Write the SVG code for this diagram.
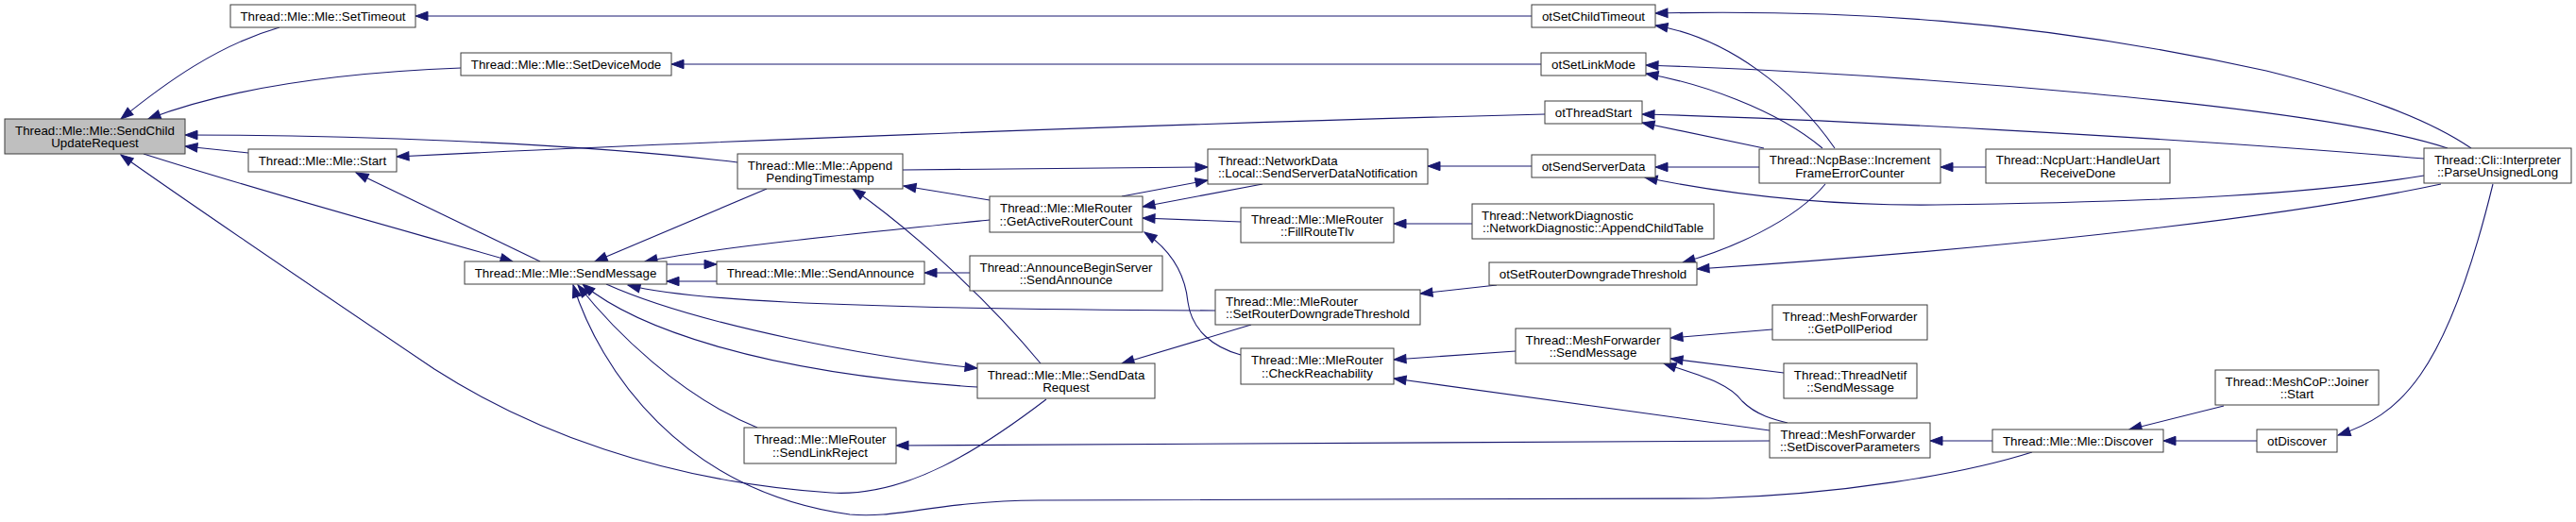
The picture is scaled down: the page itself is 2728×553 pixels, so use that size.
<svg xmlns="http://www.w3.org/2000/svg" width="2728" height="553" viewBox="0 0 2728 553">
<style>
.node rect{fill:#ffffff;stroke:#3c3c3c;stroke-width:1}
.node.root rect{fill:#bfbfbf}
text{font-family:"Liberation Sans",Arial,Helvetica,sans-serif;font-size:13.33px;fill:#000000}
.c{text-anchor:middle}
.l{text-anchor:start}
#edges path{fill:none;stroke:#191970;stroke-width:1.1;marker-start:url(#ah)}
</style>
<defs>
<marker id="ah" markerUnits="userSpaceOnUse" markerWidth="14" markerHeight="10" viewBox="0 0 14 10" refX="13" refY="4.7" orient="auto-start-reverse" style="overflow:visible">
<path d="M0,0 L13,4.7 L0,9.4 Z" fill="#191970" stroke="#191970" stroke-width="1"/>
</marker>
</defs>
<rect x="0" y="0" width="2728" height="553" fill="#ffffff"/>
<g id="edges">
<path d="M440,17 L1622,17"/>
<path d="M128,126 C175,88 230,48 296,29"/>
<path d="M157,126 C225,100 330,78 488,72"/>
<path d="M711,68 L1632,68"/>
<path d="M196,143 C350,143 600,150 781,172"/>
<path d="M196,155 L263,162"/>
<path d="M420,166 C700,152 1200,132 1636,121"/>
<path d="M377,183 L572,277"/>
<path d="M543,277 C450,250 300,210 152,163"/>
<path d="M128,164 C210,222 340,310 460,391 C560,455 700,510 880,522 C960,527 1040,475 1108,423"/>
<path d="M903,200 C960,240 1040,310 1102,385"/>
<path d="M630,277 L812,200"/>
<path d="M683,277 C760,262 900,248 1048,233"/>
<path d="M759,280 L706,280"/>
<path d="M706,298 L759,298"/>
<path d="M665,302 C720,316 850,327 1287,329"/>
<path d="M1035,390 C930,380 740,345 642,301"/>
<path d="M617,301 C670,345 800,395 1035,410"/>
<path d="M612,302 C650,350 720,420 802,453"/>
<path d="M607,302 C635,390 720,520 900,545 C950,550 990,531 1100,530 L1810,528 C1950,524 2080,502 2152,479"/>
<path d="M1210,219 L1337,195"/>
<path d="M1279,191 L1188,208"/>
<path d="M1279,177 L956,180"/>
<path d="M957,197 L1048,212"/>
<path d="M1210,231 L1314,235"/>
<path d="M1212,246 C1240,265 1255,290 1258,320 C1262,350 1285,368 1314,376"/>
<path d="M1512,176 L1622,176"/>
<path d="M1476,237 L1559,237"/>
<path d="M979,289 L1027,289"/>
<path d="M1188,385 L1325,344"/>
<path d="M1504,311 L1585,302"/>
<path d="M1476,381 L1605,372"/>
<path d="M1476,401 L1874,456"/>
<path d="M949,472 L1874,467"/>
<path d="M1769,358 L1877,349"/>
<path d="M1769,380 L1889,395"/>
<path d="M1762,385 C1800,398 1830,405 1845,425 C1860,440 1880,445 1893,448"/>
<path d="M2044,467 L2110,467"/>
<path d="M2255,455 L2355,430"/>
<path d="M2291,467 L2390,467"/>
<path d="M2476,461 C2540,440 2590,400 2640,195"/>
<path d="M2055,177 L2103,177"/>
<path d="M1753,14 C1950,10 2150,20 2400,75 C2500,100 2570,125 2617,157"/>
<path d="M1753,27 C1830,40 1900,95 1943,157"/>
<path d="M1743,69 C2000,78 2450,110 2592,157"/>
<path d="M1743,78 C1800,88 1880,115 1930,157"/>
<path d="M1739,121 C1900,125 2300,145 2567,168"/>
<path d="M1739,130 L1868,157"/>
<path d="M1753,177 L1863,177"/>
<path d="M1742,188 C1850,210 1950,218 2050,217 C2300,214 2450,205 2567,186"/>
<path d="M1782,278 C1830,265 1900,235 1933,195"/>
<path d="M1797,285 C1950,275 2350,245 2585,195"/>
</g>
<g id="n1" class="node root"><rect x="5" y="126" width="191" height="37"/><text class="c" x="100.5" y="142.8">Thread::Mle::Mle::SendChild</text><text class="c" x="100.5" y="156">UpdateRequest</text></g>
<g id="n2" class="node"><rect x="244" y="5" width="196" height="24"/><text class="c" x="342" y="22">Thread::Mle::Mle::SetTimeout</text></g>
<g id="n3" class="node"><rect x="488" y="56" width="223" height="24"/><text class="c" x="599.5" y="73">Thread::Mle::Mle::SetDeviceMode</text></g>
<g id="n4" class="node"><rect x="263" y="158" width="157" height="24"/><text class="c" x="341.5" y="175">Thread::Mle::Mle::Start</text></g>
<g id="n5" class="node"><rect x="781" y="163" width="175" height="37"/><text class="c" x="868.5" y="179.8">Thread::Mle::Mle::Append</text><text class="c" x="868.5" y="193">PendingTimestamp</text></g>
<g id="n6" class="node"><rect x="492" y="277" width="214" height="24"/><text class="c" x="599" y="294">Thread::Mle::Mle::SendMessage</text></g>
<g id="n7" class="node"><rect x="759" y="277" width="220" height="24"/><text class="c" x="869" y="294">Thread::Mle::Mle::SendAnnounce</text></g>
<g id="n8" class="node"><rect x="1048" y="208" width="162" height="38"/><text class="c" x="1129" y="225.3">Thread::Mle::MleRouter</text><text class="c" x="1129" y="238.5">::GetActiveRouterCount</text></g>
<g id="n9" class="node"><rect x="1027" y="271" width="204" height="37"/><text class="c" x="1129" y="287.8">Thread::AnnounceBeginServer</text><text class="c" x="1129" y="301">::SendAnnounce</text></g>
<g id="n10" class="node"><rect x="1279" y="158" width="233" height="37"/><text class="l" x="1290" y="174.8">Thread::NetworkData</text><text class="c" x="1395.5" y="188">::Local::SendServerDataNotification</text></g>
<g id="n11" class="node"><rect x="1314" y="220" width="162" height="37"/><text class="c" x="1395" y="236.8">Thread::Mle::MleRouter</text><text class="c" x="1395" y="250">::FillRouteTlv</text></g>
<g id="n12" class="node"><rect x="1287" y="307" width="217" height="37"/><text class="l" x="1298" y="323.8">Thread::Mle::MleRouter</text><text class="c" x="1395.5" y="337">::SetRouterDowngradeThreshold</text></g>
<g id="n13" class="node"><rect x="1035" y="385" width="188" height="37"/><text class="c" x="1129" y="401.8">Thread::Mle::Mle::SendData</text><text class="c" x="1129" y="415">Request</text></g>
<g id="n14" class="node"><rect x="1314" y="369" width="162" height="38"/><text class="c" x="1395" y="386.3">Thread::Mle::MleRouter</text><text class="c" x="1395" y="399.5">::CheckReachability</text></g>
<g id="n15" class="node"><rect x="788" y="453" width="161" height="38"/><text class="c" x="868.5" y="470.3">Thread::Mle::MleRouter</text><text class="c" x="868.5" y="483.5">::SendLinkReject</text></g>
<g id="n16" class="node"><rect x="1622" y="5" width="131" height="24"/><text class="c" x="1687.5" y="22">otSetChildTimeout</text></g>
<g id="n17" class="node"><rect x="1632" y="56" width="111" height="24"/><text class="c" x="1687.5" y="73">otSetLinkMode</text></g>
<g id="n18" class="node"><rect x="1636" y="107" width="103" height="24"/><text class="c" x="1687.5" y="124">otThreadStart</text></g>
<g id="n19" class="node"><rect x="1622" y="164" width="131" height="24"/><text class="c" x="1687.5" y="181">otSendServerData</text></g>
<g id="n20" class="node"><rect x="1559" y="216" width="256" height="37"/><text class="l" x="1569" y="232.8">Thread::NetworkDiagnostic</text><text class="c" x="1687" y="246">::NetworkDiagnostic::AppendChildTable</text></g>
<g id="n21" class="node"><rect x="1577" y="278" width="220" height="24"/><text class="c" x="1687" y="295">otSetRouterDowngradeThreshold</text></g>
<g id="n22" class="node"><rect x="1605" y="348" width="164" height="37"/><text class="c" x="1687" y="364.8">Thread::MeshForwarder</text><text class="c" x="1687" y="378">::SendMessage</text></g>
<g id="n23" class="node"><rect x="1863" y="158" width="192" height="36"/><text class="c" x="1959" y="174.3">Thread::NcpBase::Increment</text><text class="c" x="1959" y="187.5">FrameErrorCounter</text></g>
<g id="n24" class="node"><rect x="2103" y="158" width="195" height="36"/><text class="c" x="2200.5" y="174.3">Thread::NcpUart::HandleUart</text><text class="c" x="2200.5" y="187.5">ReceiveDone</text></g>
<g id="n25" class="node"><rect x="2567" y="157" width="156" height="37"/><text class="c" x="2645" y="173.8">Thread::Cli::Interpreter</text><text class="c" x="2645" y="187">::ParseUnsignedLong</text></g>
<g id="n26" class="node"><rect x="1877" y="323" width="164" height="37"/><text class="c" x="1959" y="339.8">Thread::MeshForwarder</text><text class="c" x="1959" y="353">::GetPollPeriod</text></g>
<g id="n27" class="node"><rect x="1889" y="385" width="141" height="37"/><text class="c" x="1959.5" y="401.8">Thread::ThreadNetif</text><text class="c" x="1959.5" y="415">::SendMessage</text></g>
<g id="n28" class="node"><rect x="1874" y="448" width="170" height="37"/><text class="l" x="1885.5" y="464.8">Thread::MeshForwarder</text><text class="c" x="1959" y="478">::SetDiscoverParameters</text></g>
<g id="n29" class="node"><rect x="2110" y="455" width="181" height="24"/><text class="c" x="2200.5" y="472">Thread::Mle::Mle::Discover</text></g>
<g id="n30" class="node"><rect x="2346" y="392" width="173" height="37"/><text class="c" x="2432.5" y="408.8">Thread::MeshCoP::Joiner</text><text class="c" x="2432.5" y="422">::Start</text></g>
<g id="n31" class="node"><rect x="2390" y="455" width="85" height="24"/><text class="c" x="2432.5" y="472">otDiscover</text></g>
</svg>
